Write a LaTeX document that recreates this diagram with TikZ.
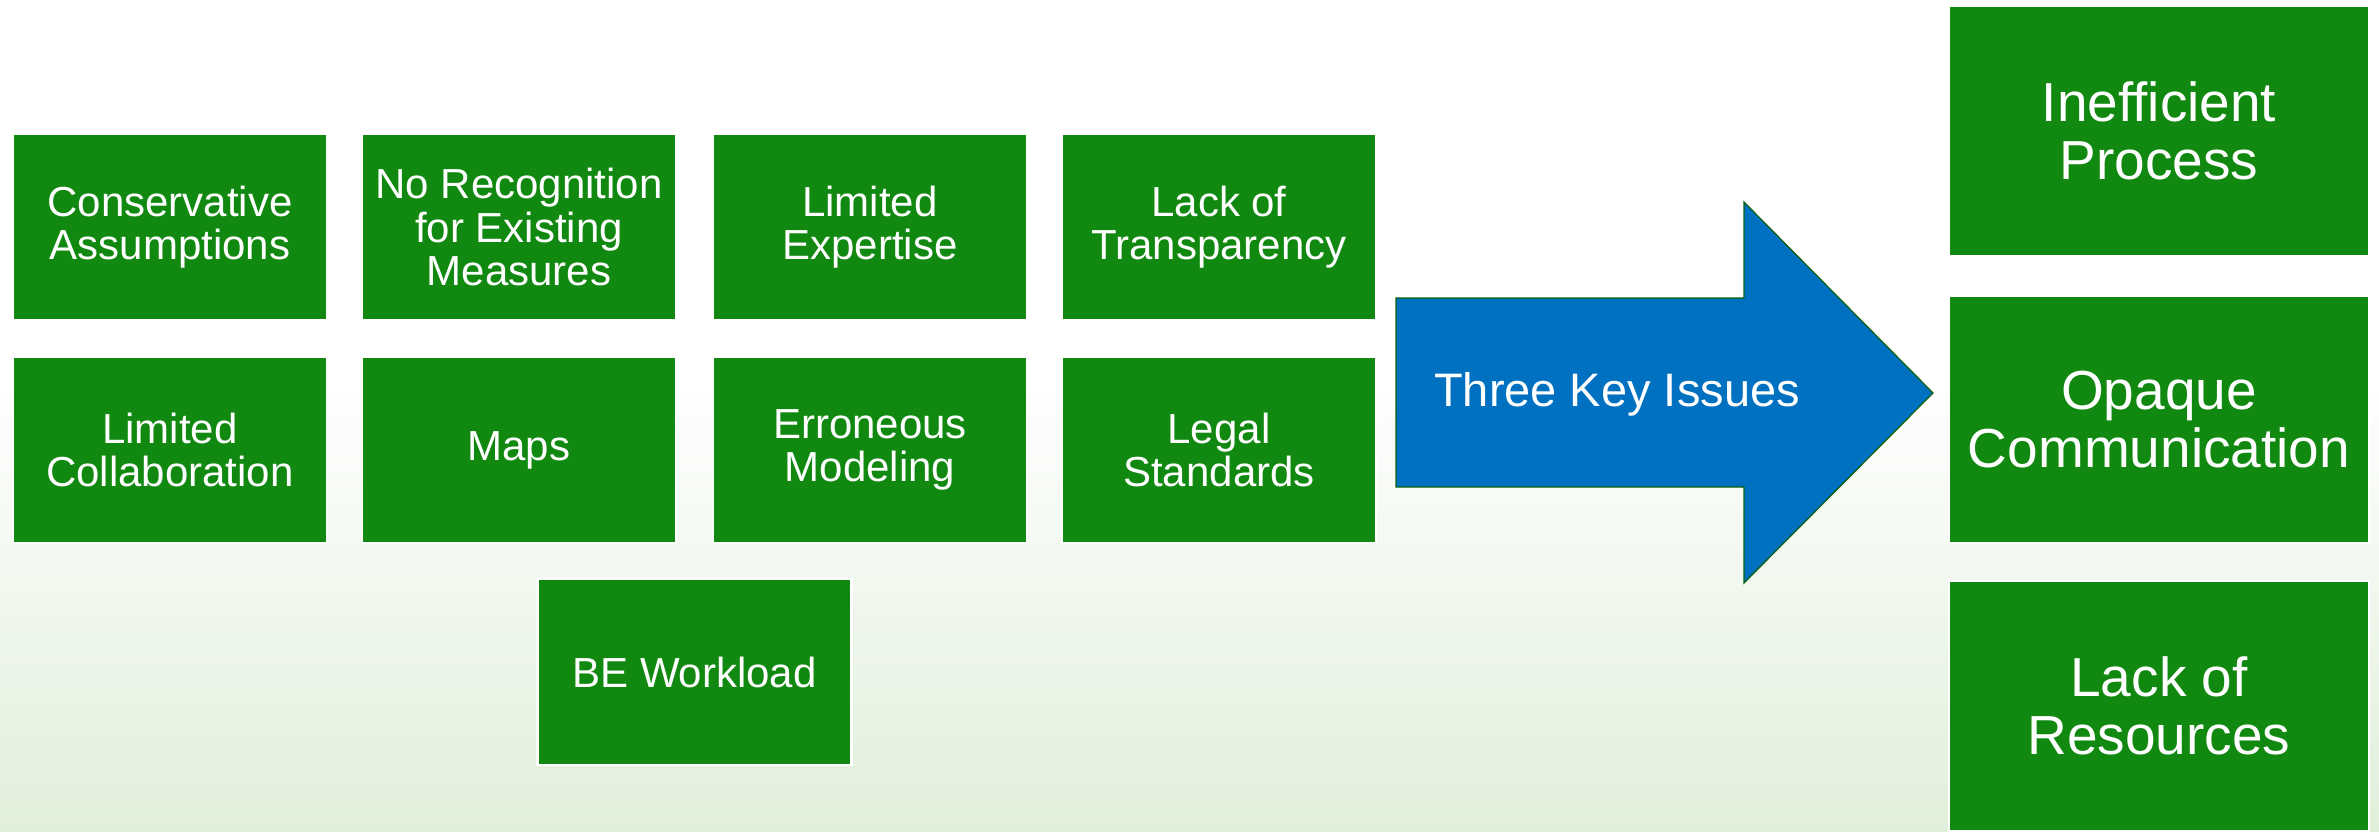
\documentclass[tikz,border=0pt]{standalone}
\usepackage{fontspec}
\setmainfont{Liberation Sans}
\definecolor{boxgreen}{RGB}{17,137,17}
\definecolor{arrowblue}{RGB}{0,112,192}
\definecolor{bggreen}{RGB}{224,239,218}
\begin{document}
\begin{tikzpicture}[x=1pt,y=-1pt,
  issue/.style={fill=boxgreen,draw=white,line width=2.5pt,text=white,align=center,
    minimum width=314pt,minimum height=186pt,inner sep=0pt,
    font=\fontsize{42}{43.5}\selectfont},
  effect/.style={fill=boxgreen,draw=white,line width=2.5pt,text=white,align=center,
    minimum width=420pt,minimum height=250pt,inner sep=0pt,
    font=\fontsize{55}{58}\selectfont}]
\useasboundingbox (0,0) rectangle (2379,832);
\fill[white] (0,0) rectangle (2379,832);
\shade[top color=white,bottom color=bggreen] (0,380) rectangle (2379,832);
% cause boxes
\node[issue] (cons) at (170,227) {Conservative\\Assumptions};
\node[issue] (norec) at (519,227) {No Recognition\\for Existing\\Measures};
\node[issue] (lexp) at (870,227) {Limited\\Expertise};
\node[issue] (ltra) at (1219,227) {Lack of\\Transparency};
\node[issue] (lcol) at (170,450) {Limited\\Collaboration};
\node[issue] (maps) at (519,450) {Maps};
\node[issue] (erro) at (870,450) {Erroneous\\Modeling};
\node[issue] (legal) at (1219,450) {Legal\\Standards};
\node[issue] (bew) at (694.5,672) {BE Workload};
% arrow
\draw[fill=arrowblue,draw=boxgreen!70!black,line width=1.2pt]
  (1396,298) -- (1744,298) -- (1744,202) -- (1933,393) -- (1744,583) -- (1744,487) -- (1396,487) -- cycle;
\node[text=white,font=\fontsize{47}{49}\selectfont,inner sep=0pt] (tki) at (1617,394) {Three Key Issues};
% effect boxes
\node[effect] (ineff) at (2159,131) {Inefficient\\Process};
\node[effect,minimum height=247pt] (opaq) at (2159,419.5) {Opaque\\Communication};
\node[effect] (lres) at (2159,706) {Lack of\\Resources};
\end{tikzpicture}
\end{document}
